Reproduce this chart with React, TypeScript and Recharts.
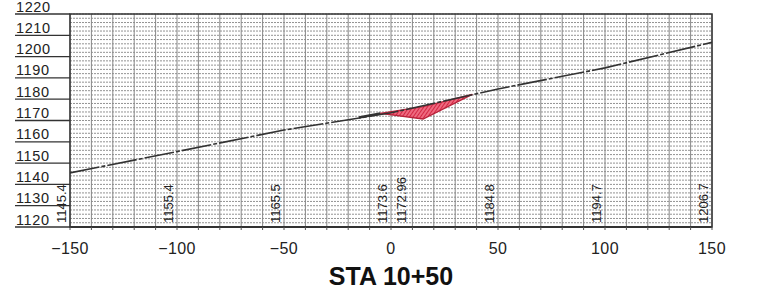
import React from "react";
import {
  ComposedChart,
  Line,
  Area,
  XAxis,
  YAxis,
  CartesianGrid,
  ReferenceArea,
  ReferenceDot,
  Label,
} from "recharts";

// existing ground profile
const groundStations = [-150, -100, -50, 0, 50, 100, 150];
const groundElev = [1145.4, 1155.4, 1165.5, 1173.6, 1184.8, 1194.7, 1206.7];

// fill slope segment left of the road
const slopeStations = [-15, -5];
const slopeElev = [1171.4, 1173.3];

// cut region (ground above design)
const cutStations = [-5, 15, 38];
const cutTop = [1173.3, 1176.5, 1182.3];
const cutBottom = [1173.3, 1170.7, 1182.3];

// elevation annotations along the bottom
const noteStations = [-150, -100, -50, 0, 9, 50, 100, 150];
const noteTexts = ["1145.4", "1155.4", "1165.5", "1173.6", "1172.96", "1184.8", "1194.7", "1206.7"];

const xTicks = [-150, -140, -130, -120, -110, -100, -90, -80, -70, -60, -50, -40, -30, -20, -10, 0,
  10, 20, 30, 40, 50, 60, 70, 80, 90, 100, 110, 120, 130, 140, 150];
const yTicks = [1120, 1130, 1140, 1150, 1160, 1170, 1180, 1190, 1200, 1210, 1220];
const gridTicks: number[] = [];
for (let v = 1120; v <= 1220; v += 2) gridTicks.push(v);

const title = "STA 10+50";

const allStations = Array.from(new Set([...groundStations, ...slopeStations, ...cutStations])).sort((a, b) => a - b);
const data = allStations.map((x) => {
  const row: any = { x };
  const gi = groundStations.indexOf(x);
  if (gi >= 0) row.ground = groundElev[gi];
  const si = slopeStations.indexOf(x);
  if (si >= 0) row.slope = slopeElev[si];
  const ci = cutStations.indexOf(x);
  if (ci >= 0) row.cut = [cutBottom[ci], cutTop[ci]];
  return row;
});

const FONT = "'Liberation Sans', Arial, Helvetica, sans-serif";

const LeftTick = ({ y, payload }: any) => (
  <g>
    <line x1={15} x2={70} y1={y} y2={y} stroke="#333" strokeWidth={1.3} />
    <text x={16} y={y - 2.5} fontSize={14.5} letterSpacing={0.6} fill="#222" fontFamily={FONT}>
      {payload.value}
    </text>
  </g>
);

const RightTick = ({ y, payload }: any) => (
  <g>
    <line x1={712} x2={765} y1={y} y2={y} stroke="#333" strokeWidth={1.3} />
    <text x={762} y={y - 2.5} fontSize={14.5} letterSpacing={0.6} fill="#222" fontFamily={FONT} textAnchor="end">
      {payload.value}
    </text>
  </g>
);

const BottomTick = ({ x, payload }: any) => {
  if (payload.value % 50 !== 0) return <g />;
  const s = payload.value < 0 ? "\u2212" + Math.abs(payload.value) : String(payload.value);
  return (
    <text x={x} y={254} fontSize={16} letterSpacing={0.4} fill="#222" fontFamily={FONT} textAnchor="middle">
      {s}
    </text>
  );
};

const makeNote = (t: string) => ({ cx, cy }: any) => (
  <text
    x={cx - 4}
    y={cy - 4}
    transform={`rotate(-90 ${cx - 4} ${cy - 4})`}
    fontSize={13}
    fill="#222"
    fontFamily={FONT}
  >
    {t}
  </text>
);

const TitleLabel = ({ viewBox }: any) => (
  <text
    x={viewBox.x + viewBox.width / 2}
    y={viewBox.y + 58}
    fontSize={25}
    fontWeight="bold"
    fill="#111"
    fontFamily={FONT}
    textAnchor="middle"
  >
    {title}
  </text>
);

export default function App() {
  return (
    <div style={{ position: "absolute", left: 0, top: 0, background: "#fff" }}>
      <ComposedChart
        width={765}
        height={293}
        data={data}
        margin={{ top: 14, right: 0, left: 0, bottom: 0 }}
      >
        <defs>
          <pattern id="hatch" width="3" height="3" patternUnits="userSpaceOnUse" patternTransform="rotate(35)">
            <rect width="3" height="3" fill="#ee6a80" />
            <line x1="0" y1="0" x2="0" y2="3" stroke="#cc1533" strokeWidth={1.6} />
          </pattern>
        </defs>
        <CartesianGrid
          yAxisId="l"
          vertical={false}
          horizontalValues={gridTicks}
          stroke="#777"
          strokeDasharray="2 1"
          strokeWidth={0.8}
        />
        <CartesianGrid yAxisId="l" horizontal={false} stroke="#888" strokeWidth={1} />
        <XAxis
          dataKey="x"
          type="number"
          domain={[-150, 150]}
          ticks={xTicks}
          interval={0}
          height={66}
          tick={<BottomTick />}
          tickSize={3}
          tickLine={{ stroke: "#555" }}
          axisLine={{ stroke: "#333", strokeWidth: 2 }}
          allowDataOverflow
        >
          <Label content={<TitleLabel />} />
        </XAxis>
        <YAxis
          yAxisId="l"
          orientation="left"
          type="number"
          domain={[1120, 1220]}
          ticks={yTicks}
          interval={0}
          width={70}
          tick={<LeftTick />}
          tickLine={false}
          axisLine={false}
        />
        <YAxis
          yAxisId="r"
          orientation="right"
          type="number"
          domain={[1120, 1220]}
          ticks={yTicks}
          interval={0}
          width={53}
          tick={<RightTick />}
          tickLine={false}
          axisLine={false}
        />
        <ReferenceArea
          yAxisId="l"
          x1={-150}
          x2={150}
          y1={1120}
          y2={1220}
          fill="none"
          stroke="#333"
          strokeWidth={1.5}
          fillOpacity={0}
        />
        <Area
          yAxisId="l"
          dataKey="cut"
          connectNulls
          fill="url(#hatch)"
          fillOpacity={1}
          stroke="#b8223a"
          strokeWidth={1.3}
          isAnimationActive={false}
        />
        <Line
          yAxisId="l"
          dataKey="slope"
          connectNulls
          stroke="#333"
          strokeWidth={2.5}
          dot={false}
          isAnimationActive={false}
        />
        <Line
          yAxisId="l"
          dataKey="ground"
          connectNulls
          stroke="#333"
          strokeWidth={1.6}
          strokeDasharray="30 2 4 2"
          dot={false}
          isAnimationActive={false}
        />
        {noteStations.map((s, i) => (
          <ReferenceDot
            key={s}
            yAxisId="l"
            x={s}
            y={1120}
            ifOverflow="visible"
            shape={makeNote(noteTexts[i])}
          />
        ))}
      </ComposedChart>
    </div>
  );
}
